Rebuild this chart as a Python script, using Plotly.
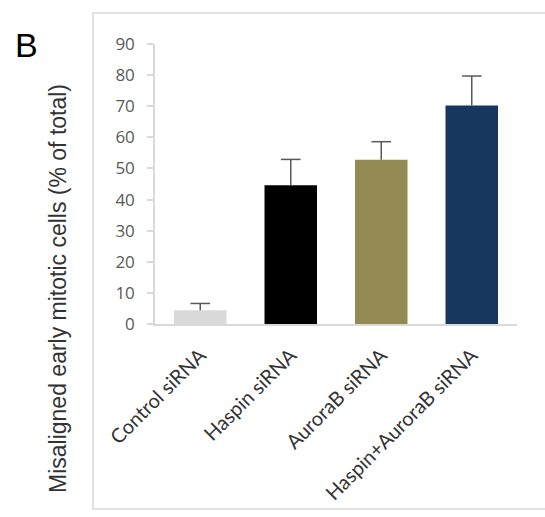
import plotly.graph_objects as go

categories = ["Control siRNA", "Haspin siRNA", "AuroraB siRNA", "Haspin+AuroraB siRNA"]
values = [4.4, 44.6, 52.8, 70.2]
errors = [2.2, 8.3, 5.8, 9.5]
colors = ["#d9d9d9", "#000000", "#948a54", "#17375e"]
y_ticks = [0, 10, 20, 30, 40, 50, 60, 70, 80, 90]

fig = go.Figure()
fig.add_trace(go.Bar(
    x=categories, y=values,
    marker=dict(color=colors, line=dict(width=0)),
    width=0.58,
))

# error bars (upper only): stems and caps
stem_x, stem_y = [], []
for c, v, e in zip(categories, values, errors):
    stem_x += [c, c, None]
    stem_y += [v, v + e, None]
fig.add_trace(go.Scatter(
    x=stem_x, y=stem_y, mode="lines",
    line=dict(color="#595959", width=1.5), hoverinfo="skip",
))
fig.add_trace(go.Scatter(
    x=categories, y=[v + e for v, e in zip(values, errors)], mode="markers",
    marker=dict(symbol="line-ew-open", size=14, color="#595959",
                line=dict(color="#595959", width=1.5)),
    hoverinfo="skip",
))

W, H = 545, 517
L, R, T, B = 155, 28, 44, 193
pw, ph = W - L - R, H - T - B

def px(x):
    return (x - L) / pw

def py(y):
    return (H - B - y) / ph

fig.add_shape(type="rect", xref="paper", yref="paper",
              x0=px(93), x1=px(560), y0=py(509), y1=py(13),
              line=dict(color="#d9d9d9", width=1.5), fillcolor="rgba(0,0,0,0)", layer="below")

fig.add_annotation(xref="paper", yref="paper", x=px(26), y=py(45), text="B",
                   xanchor="center", yanchor="middle",
                   showarrow=False, font=dict(family="Liberation Sans, Arial", size=34, color="#000000"))

fig.add_annotation(xref="paper", yref="paper", x=px(58), y=py(289),
                   xanchor="center", yanchor="middle",
                   text="Misaligned early mitotic cells (% of total)", textangle=-90,
                   showarrow=False, font=dict(family="Liberation Sans, Arial", size=23, color="#333333"))

fig.update_layout(
    width=W, height=H,
    margin=dict(l=L, r=R, t=T, b=B, pad=0),
    paper_bgcolor="white", plot_bgcolor="white",
    showlegend=False,
    font=dict(family="Open Sans, Liberation Sans, Arial", color="#595959"),
)
fig.update_xaxes(
    type="category", range=[-0.5, 3.5],
    showline=True, linecolor="#d9d9d9", linewidth=1.5,
    ticks="", tickangle=-45, ticklabelstandoff=10,
    tickfont=dict(family="Lato, Open Sans", size=20, color="#333333"),
    showgrid=False, zeroline=False,
)
fig.update_yaxes(
    range=[0, 90], tickvals=y_ticks,
    showline=True, linecolor="#d9d9d9", linewidth=1.5,
    ticks="outside", ticklen=6, tickcolor="#d9d9d9", tickwidth=1.5,
    ticklabelstandoff=9,
    tickfont=dict(size=17, color="#595959"),
    showgrid=False, zeroline=False,
)

fig.write_html("out.html", config={"displayModeBar": False},
               post_script="document.body.style.margin='0';")
